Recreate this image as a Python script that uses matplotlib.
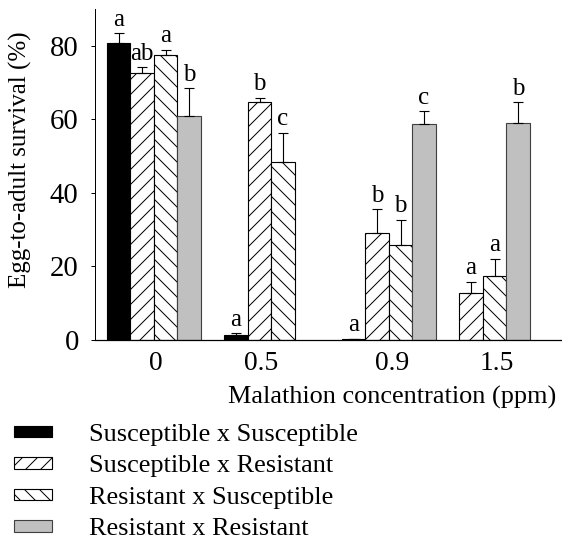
import numpy as np
import matplotlib
matplotlib.use("Agg")
import matplotlib.pyplot as plt
from matplotlib.patches import Patch

plt.rcParams['font.family'] = ['Liberation Serif', 'DejaVu Serif']
plt.rcParams['hatch.linewidth'] = 0.8

# ---------------- data ----------------
concentrations = ["0", "0.5", "0.9", "1.5"]
series_names = ["Susceptible x Susceptible", "Susceptible x Resistant",
                "Resistant x Susceptible", "Resistant x Resistant"]
sxs = [80.7, 1.3, 0.3, np.nan]
sxr = [72.6, 64.6, 29.2, 12.7]
rxs = [77.6, 48.3, 25.9, 17.4]
rxr = [61.0, np.nan, 58.8, 59.0]
sxs_err = [2.7, 0.5, 0.0, np.nan]
sxr_err = [1.5, 1.3, 6.4, 3.2]
rxs_err = [1.3, 8.1, 6.8, 4.7]
rxr_err = [7.5, np.nan, 3.4, 5.6]
sxs_let = ["a", "a", "a", ""]
sxr_let = ["ab", "b", "b", "a"]
rxs_let = ["a", "c", "b", "a"]
rxr_let = ["b", "", "c", "b"]

# ---------------- layout / style ----------------
DPI = 90
W, H = 562, 549
fig = plt.figure(figsize=(W / DPI, H / DPI), dpi=DPI)
ax = fig.add_axes([95 / W, 1 - 340 / H, (W - 95) / W, (340 - 9) / H])

group_left = [0.5, 5.5, 10.5, 14.5]
tick_pos = [2.6, 7.06, 12.64, 17.1]
bw = 1.0

styles = [
    dict(color="black", edgecolor="black", hatch=None),
    dict(color="white", edgecolor="black", hatch="//"),
    dict(color="white", edgecolor="black", hatch="\\\\"),
    dict(color="#c0c0c0", edgecolor="#404040", hatch=None),
]
values = [sxs, sxr, rxs, rxr]
errs = [sxs_err, sxr_err, rxs_err, rxr_err]
letters = [sxs_let, sxr_let, rxs_let, rxr_let]
fs = 21
fs_ylabel = 20
fs_letter = 20
fs_ytick = 23
fs_xtick = 22

for i in range(4):
    x = np.array(group_left) + i * bw + bw / 2
    v = np.array(values[i], dtype=float)
    e = np.array(errs[i], dtype=float)
    st = styles[i]
    ax.bar(x, v, width=bw, color=st["color"], edgecolor=st["edgecolor"],
           hatch=st["hatch"], linewidth=0.9, zorder=2)
    ax.errorbar(x, v, yerr=[np.zeros_like(e), e], fmt="none", ecolor="black",
                elinewidth=0.9, capsize=4, capthick=0.9, zorder=3)
    for xi, vi, ei, lab in zip(x, v, e, letters[i]):
        if lab and not np.isnan(vi):
            top = vi + (0 if np.isnan(ei) else ei)
            ax.annotate(lab, (xi, top), xytext=(0, 2), textcoords="offset points",
                        ha="center", va="bottom", fontsize=fs_letter)

ax.set_xlim(0, (W - 95) / 23.5)
ax.set_ylim(0, 90)
ax.set_yticks([0, 20, 40, 60, 80])
ax.set_xticks(tick_pos)
ax.set_xticklabels(concentrations)
ax.tick_params(axis="y", direction="out", length=3, width=0.8, labelsize=fs_ytick, pad=10)
ax.tick_params(axis="x", length=0, labelsize=fs_xtick, pad=9)
for s in ["top", "right"]:
    ax.spines[s].set_visible(False)
ax.spines["left"].set_linewidth(0.8)
ax.spines["bottom"].set_linewidth(1.0)

fig.text(20 / W, 1 - 160 / H, "Egg-to-adult survival (%)", rotation=90,
         ha="center", va="center", fontsize=fs_ylabel)
fig.text(556 / W, 1 - 397 / H, "Malathion concentration (ppm)", ha="right",
         va="center", fontsize=fs)

handles = [Patch(facecolor=st["color"], edgecolor=st["edgecolor"], hatch=st["hatch"],
                 linewidth=0.9) for st in styles]
fig.legend(handles, series_names, loc="upper left",
           bbox_to_anchor=(14 / W, 1 - 424 / H), frameon=False, fontsize=fs,
           handlelength=1.46, handleheight=0.3, handletextpad=1.4,
           labelspacing=0.36, borderaxespad=0, borderpad=0)

fig.savefig("out.png", dpi=DPI)
